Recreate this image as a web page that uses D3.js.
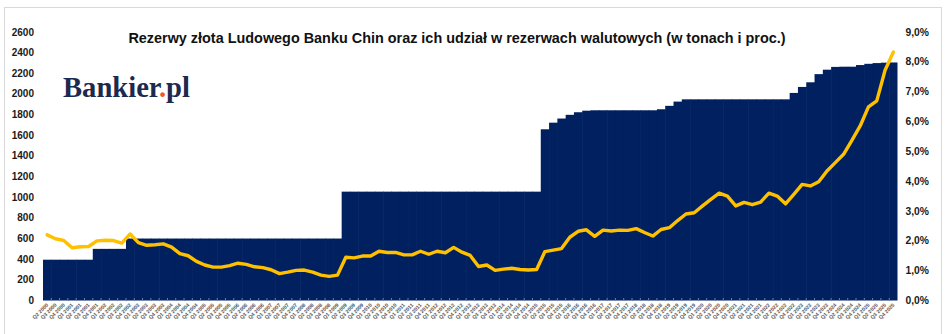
<!DOCTYPE html>
<html><head><meta charset="utf-8">
<script src="https://cdn.jsdelivr.net/npm/d3@7"></script>
<style>body{margin:0;background:#fff}svg{display:block}</style>
</head><body><svg id="c" width="948" height="334"></svg>
<script>
const quarters = [
"Q2 2000","Q3 2000","Q4 2000",
"Q1 2001","Q2 2001","Q3 2001","Q4 2001",
"Q1 2002","Q2 2002","Q3 2002","Q4 2002",
"Q1 2003","Q2 2003","Q3 2003","Q4 2003",
"Q1 2004","Q2 2004","Q3 2004","Q4 2004",
"Q1 2005","Q2 2005","Q3 2005","Q4 2005",
"Q1 2006","Q2 2006","Q3 2006","Q4 2006",
"Q1 2007","Q2 2007","Q3 2007","Q4 2007",
"Q1 2008","Q2 2008","Q3 2008","Q4 2008",
"Q1 2009","Q2 2009","Q3 2009","Q4 2009",
"Q1 2010","Q2 2010","Q3 2010","Q4 2010",
"Q1 2011","Q2 2011","Q3 2011","Q4 2011",
"Q1 2012","Q2 2012","Q3 2012","Q4 2012",
"Q1 2013","Q2 2013","Q3 2013","Q4 2013",
"Q1 2014","Q2 2014","Q3 2014","Q4 2014",
"Q1 2015","Q2 2015","Q3 2015","Q4 2015",
"Q1 2016","Q2 2016","Q3 2016","Q4 2016",
"Q1 2017","Q2 2017","Q3 2017","Q4 2017",
"Q1 2018","Q2 2018","Q3 2018","Q4 2018",
"Q1 2019","Q2 2019","Q3 2019","Q4 2019",
"Q1 2020","Q2 2020","Q3 2020","Q4 2020",
"Q1 2021","Q2 2021","Q3 2021","Q4 2021",
"Q1 2022","Q2 2022","Q3 2022","Q4 2022",
"Q1 2023","Q2 2023","Q3 2023","Q4 2023",
"Q1 2024","Q2 2024","Q3 2024","Q4 2024",
"Q1 2025","Q2 2025","Q3 2025","Q4 2025"];

// gold reserves, tonnes
const goldTonnes = [
395,395,395,395,395,395,
500,500,500,500,
600,600,600,600,600,600,600,600,600,600,600,600,600,600,600,600,600,600,600,600,600,600,600,600,600,600,
1054,1054,1054,1054,1054,1054,1054,1054,1054,1054,1054,1054,1054,1054,1054,1054,1054,1054,1054,1054,1054,1054,1054,1054,
1658,1722,1762,1798,1823,1838,
1842,1842,1842,1842,1842,1842,1842,1842,
1852,1885,1926,
1948,1948,1948,1948,1948,1948,1948,1948,1948,1948,1948,1948,1948,
2010,2068,2113,2192,2235,2262,2264,2264,2280,2292,2299,2303,2305];

// share of gold in FX reserves, %
const goldSharePct = [
2.20,2.07,2.01,1.77,1.80,1.81,2.00,2.02,2.01,1.92,
2.23,1.94,1.85,1.87,1.90,1.79,1.57,1.50,1.31,1.19,
1.12,1.12,1.17,1.25,1.21,1.13,1.10,1.03,0.90,0.95,
1.01,1.02,0.95,0.85,0.81,0.85,1.45,1.43,1.49,1.49,
1.65,1.61,1.61,1.53,1.53,1.65,1.55,1.65,1.60,1.78,
1.62,1.51,1.14,1.19,1.01,1.05,1.08,1.04,1.02,1.04,
1.64,1.69,1.74,2.12,2.32,2.37,2.15,2.36,2.33,2.36,
2.35,2.41,2.28,2.16,2.38,2.44,2.68,2.90,2.94,3.17,
3.39,3.60,3.50,3.17,3.29,3.21,3.30,3.60,3.50,3.24,
3.56,3.89,3.84,3.98,4.34,4.62,4.90,5.37,5.85,6.49,
6.69,7.72,8.33];

const leftTicks = [0,200,400,600,800,1000,1200,1400,1600,1800,2000,2200,2400,2600];
const rightTicks = [0,1,2,3,4,5,6,7,8,9];
const titleText = "Rezerwy złota Ludowego Banku Chin oraz ich udział w rezerwach walutowych (w tonach i proc.)";

const svg = d3.select("#c");
const W = 948, H = 334;
svg.append("rect").attr("width",W).attr("height",H).attr("fill","#fff");
svg.append("rect").attr("x",4.5).attr("y",7.5).attr("width",937).attr("height",340)
  .attr("fill","none").attr("stroke","#d9d9d9").attr("stroke-width",1);

const x = d3.scaleBand().domain(quarters).range([43, 897.5]).padding(0);
const yL = d3.scaleLinear().domain([0,2600]).range([300.5, 32]);
const yR = d3.scaleLinear().domain([0,9]).range([300.5, 32]);

// bars
svg.append("g").selectAll("rect").data(quarters).join("rect")
  .attr("x", d => x(d))
  .attr("width", (d,i) => x.bandwidth() + (i < quarters.length-1 ? 0.6 : 0))
  .attr("y", (d,i) => yL(goldTonnes[i]))
  .attr("height", (d,i) => yL(0) - yL(goldTonnes[i]))
  .attr("fill", "#002060");

// tick marks at category boundaries
svg.append("g").selectAll("line").data(quarters.slice(1)).join("line")
  .attr("x1", d => x(d)).attr("x2", d => x(d))
  .attr("y1", 298).attr("y2", 300.5)
  .attr("stroke", "#8a97b8").attr("stroke-width", 0.8);

// line
const line = d3.line()
  .x((d,i) => x(quarters[i]) + x.bandwidth()/2)
  .y(d => yR(d));
svg.append("path").datum(goldSharePct)
  .attr("d", line)
  .attr("fill","none").attr("stroke","#FFC000").attr("stroke-width",3.4)
  .attr("stroke-linejoin","round").attr("stroke-linecap","round");

// left axis labels
svg.append("g").selectAll("text").data(leftTicks).join("text")
  .attr("x", 34).attr("y", d => yL(d)).attr("dy","0.35em")
  .attr("text-anchor","end")
  .attr("font-family","Liberation Sans, Arial, sans-serif")
  .attr("font-weight","bold").attr("font-size",10).attr("fill","#1a1a1a")
  .text(d => d);

// right axis labels
svg.append("g").selectAll("text").data(rightTicks).join("text")
  .attr("x", 905.5).attr("y", d => yR(d)).attr("dy","0.35em")
  .attr("text-anchor","start")
  .attr("font-family","Liberation Sans, Arial, sans-serif")
  .attr("font-weight","bold").attr("font-size",10.3).attr("fill","#1a1a1a")
  .text(d => d.toFixed(1).replace(".", ",") + "%");

// x labels
svg.append("g").selectAll("text").data(quarters).join("text")
  .attr("transform", d => `translate(${x(d) + x.bandwidth()/2 + 1.5},${305.5}) rotate(-45)`)
  .attr("text-anchor","end")
  .attr("font-family","Liberation Sans, Arial, sans-serif")
  .attr("font-weight","bold").attr("font-size",5.2).attr("fill","#555")
  .text(d => d);

// title
const t = svg.append("text")
  .attr("x", 457).attr("y", 43)
  .attr("text-anchor","middle")
  .attr("font-family","Liberation Sans, Arial, sans-serif")
  .attr("font-weight","bold").attr("font-size",14.5).attr("fill","#111")
  .text(titleText);
const tl = t.node().getComputedTextLength();
t.attr("font-size", 14.5 * 658 / tl);

// logo
const logo = svg.append("text")
  .attr("x", 63).attr("y", 97)
  .attr("font-family","Liberation Serif, Times New Roman, serif")
  .attr("font-weight","bold").attr("font-size",28).attr("fill","#1b2a4e");
logo.append("tspan").text("Bankier");
logo.append("tspan").attr("fill","#f05a28").text(".");
logo.append("tspan").text("pl");
const ll = logo.node().getComputedTextLength();
logo.attr("font-size", 28 * 127 / ll);
</script></body></html>
